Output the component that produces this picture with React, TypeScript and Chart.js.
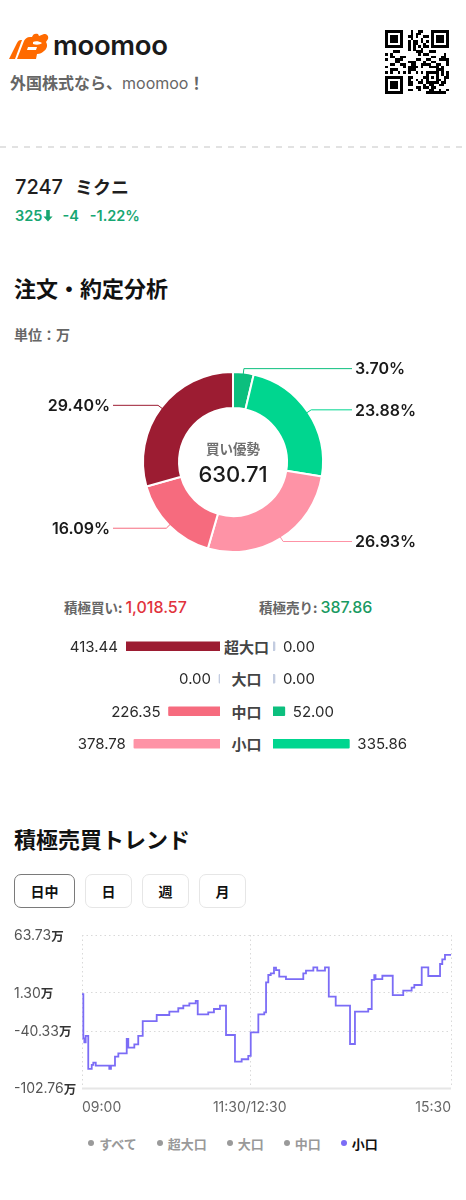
import React, { useEffect, useRef } from 'react';
import { Chart, registerables } from 'chart.js';

Chart.register(...registerables);

const CJK = '"Noto Sans CJK JP", "Noto Sans", sans-serif';
const NUM = 'Inter, "Noto Sans", sans-serif';

// ---- order / trade breakdown (unit: 万) ----
const SIZE_LABELS = ['超大口', '大口', '中口', '小口'];
const BUY_VALUES = [413.44, 0, 226.35, 378.78];
const SELL_VALUES = [0, 0, 52.0, 335.86];
const BUY_COLORS = ['#9c1c32', '#c9314a', '#f66b7e', '#fe93a6'];
const SELL_COLORS = ['#067a52', '#05a56d', '#0cbf7e', '#00d68f'];
const ZERO_COLOR = '#c3cce0';

// ---- trend (minutes of trading time since 09:00, value in 万) ----
const TREND_TIMES = [0, 1.2, 2.1, 3.3, 5.6, 8.7, 10.1, 12.3, 24.4, 25.9, 29.5, 32.5, 40.0, 41.4, 46.8, 50.3, 54.3, 66.8, 78.1, 86.1, 90.6, 96.0, 101.7, 103.5, 112.9, 118.0, 123.4, 128.8, 136.8, 142.8, 148.7, 150.9, 157.7, 163.0, 164.6, 166.6, 168.8, 171.7, 173.5, 176.4, 182.4, 197.9, 200.3, 206.9, 210.4, 217.3, 220.7, 226.9, 239.7, 244.1, 256.0, 259.1, 261.4, 262.5, 268.6, 277.9, 287.3, 294.8, 297.2, 303.8, 309.7, 320.2, 322.2, 324.6, 330];
const TREND_VALUES = [-0.5, -48.7, -53, -46, -81.9, -77.5, -75.2, -78.5, -81.9, -78.5, -68.7, -65, -49.4, -58.9, -55.2, -46, -29.9, -23.3, -19.7, -16, -13.2, -10.6, -8.1, -22.6, -20.4, -16.8, -13.2, -45.1, -74.1, -71.5, -67.9, -42.2, -22.6, -20.4, 12.1, 20.2, 22, 28.2, 25.6, 18.4, 15.8, 22, 24.9, 28.6, 24.9, 28.6, -3.4, -13.2, -54.9, -19.7, -16.8, 14.8, 20, 15.8, 19.4, -1.6, 3.1, 6.4, 9.3, 28.6, 19.1, 32.2, 37.3, 42, 42];
const X_TICKS = [0, 150, 330];
const X_TICK_LABELS = ['09:00', '11:30/12:30', '15:30'];
const Y_TICKS = [63.73, 1.3, -40.33, -102.76];
const LEGEND_LABELS = ['すべて', '超大口', '大口', '中口', '小口'];
const TAB_LABELS = ['日中', '日', '週', '月'];

const sum = (a: number[]) => a.reduce((s, v) => s + v, 0);
const fmt = (v: number) => v.toLocaleString('en-US', { minimumFractionDigits: 2, maximumFractionDigits: 2 });

function Txt(p: { x: number; y: number; size: number; children: any; style?: any }) {
  return (
    <div style={{ position: 'absolute', left: p.x, top: p.y - p.size * 0.75, height: p.size * 1.5, lineHeight: `${p.size * 1.5}px`, fontSize: p.size, whiteSpace: 'nowrap', ...(p.style || {}) }}>
      {p.children}
    </div>
  );
}

function Logo() {
  return (
    <svg width={40} height={26} viewBox="0 0 40 26" style={{ position: 'absolute', left: 9, top: 33 }}>
      <path d="M0 26 L8 10 C9 8 10 7 12 7 L13 7 L6 26 Z" fill="#ff6a00" />
      <path d="M8 26 L15 8 C16 6 18 4 21 4 L23 4 C24 1 26 0 29 1 L30 3 L35 1 C38 1 40 3 39 6 L37 9 C39 12 38 16 35 18 C33 20 31 21 28 21 L27 26 Z" fill="#ff6a00" />
      <path d="M24 9 C26 8 30 8 33 10 C31 12 27 12 24 11 Z" fill="#fff" />
      <path d="M19 14 L28 14 L27 17 L18 17 Z" fill="#fff" />
    </svg>
  );
}

function QR() {
  const n = 25;
  const cells: any[] = [];
  const finder = (r: number, c: number) => {
    const inF = (fr: number, fc: number) => r >= fr && r < fr + 7 && c >= fc && c < fc + 7;
    for (const [fr, fc] of [[0, 0], [0, n - 7], [n - 7, 0]]) {
      if (inF(fr, fc)) {
        const rr = r - fr, cc = c - fc;
        const ring = Math.min(rr, cc, 6 - rr, 6 - cc);
        return ring === 1 ? 0 : 1;
      }
      if (r >= fr - 1 && r <= fr + 7 && c >= fc - 1 && c <= fc + 7) return 0;
    }
    return -1;
  };
  for (let r = 0; r < n; r++) {
    for (let c = 0; c < n; c++) {
      let on = finder(r, c);
      if (on === -1) {
        if (r >= 16 && r <= 20 && c >= 16 && c <= 20) {
          const ring = Math.min(r - 16, c - 16, 20 - r, 20 - c);
          on = ring === 1 ? 0 : 1;
        } else {
          on = ((r * 73 + c * 151 + r * c * 17 + (r ^ c) * 29) % 7) < 3 ? 1 : 0;
        }
      }
      if (on) cells.push(<rect key={r * n + c} x={c} y={r} width={1.02} height={1.02} fill="#000" />);
    }
  }
  return (
    <svg width={64} height={64} viewBox="0 0 25 25" shapeRendering="crispEdges" style={{ position: 'absolute', left: 385, top: 30 }}>
      {cells}
    </svg>
  );
}

function Donut() {
  const ref = useRef<HTMLCanvasElement>(null);
  useEffect(() => {
    const sellTotal = sum(SELL_VALUES);
    const buyTotal = sum(BUY_VALUES);
    const total = sellTotal + buyTotal;
    const vals: number[] = [];
    const cols: string[] = [];
    SELL_VALUES.forEach((v, i) => { if (v > 0) { vals.push(v); cols.push(SELL_COLORS[i]); } });
    for (let i = BUY_VALUES.length - 1; i >= 0; i--) { if (BUY_VALUES[i] > 0) { vals.push(BUY_VALUES[i]); cols.push(BUY_COLORS[i]); } }
    const plugin = {
      id: 'donutLabels',
      afterDatasetsDraw(chart: any) {
        const ctx = chart.ctx;
        const area = chart.chartArea;
        const meta = chart.getDatasetMeta(0);
        meta.data.forEach((arc: any, i: number) => {
          const p = arc.getProps(['x', 'y', 'startAngle', 'endAngle', 'outerRadius'], true);
          const mid = (p.startAngle + p.endAngle) / 2;
          const cos = Math.cos(mid), sin = Math.sin(mid);
          const x0 = p.x + cos * (p.outerRadius - 2), y0 = p.y + sin * (p.outerRadius - 2);
          const x1 = p.x + cos * (p.outerRadius + 4), y1 = p.y + sin * (p.outerRadius + 4);
          const right = cos >= 0;
          const x2 = right ? area.right + 28 : area.left - 29;
          ctx.save();
          ctx.strokeStyle = cols[i];
          ctx.lineWidth = 1;
          ctx.beginPath();
          ctx.moveTo(x0, y0);
          ctx.lineTo(x1, y1);
          ctx.lineTo(x2, y1);
          ctx.stroke();
          ctx.fillStyle = '#1a1a1a';
          ctx.font = `600 16px ${NUM}`;
          ctx.textBaseline = 'middle';
          ctx.textAlign = right ? 'left' : 'right';
          ctx.fillText(((vals[i] / total) * 100).toFixed(2) + '%', right ? x2 + 3 : x2 - 3, y1 + 1);
          ctx.restore();
        });
        const cx = (area.left + area.right) / 2, cy = (area.top + area.bottom) / 2;
        ctx.save();
        ctx.textAlign = 'center';
        ctx.textBaseline = 'middle';
        ctx.fillStyle = '#707070';
        ctx.font = `700 13.5px ${CJK}`;
        ctx.fillText(buyTotal >= sellTotal ? '買い優勢' : '売り優勢', cx, cy - 13);
        ctx.fillStyle = '#1a1a1a';
        ctx.font = `500 22px ${NUM}`;
        ctx.fillText(fmt(Math.abs(buyTotal - sellTotal)), cx, cy + 13);
        ctx.restore();
      },
    };
    const chart = new Chart(ref.current!, {
      type: 'doughnut',
      data: { labels: vals.map((_, i) => String(i)), datasets: [{ data: vals, backgroundColor: cols, borderColor: '#ffffff', borderWidth: 2 }] },
      options: {
        animation: false,
        responsive: false,
        devicePixelRatio: 1,
        cutout: '60%',
        layout: { padding: { left: 142, right: 142, top: 31, bottom: 37 } },
        plugins: { legend: { display: false }, tooltip: { enabled: false } },
      },
      plugins: [plugin],
    } as any);
    return () => chart.destroy();
  }, []);
  return <canvas ref={ref} width={466} height={250} style={{ position: 'absolute', left: 0, top: 340 }} />;
}

function SideBars(props: { values: number[]; colors: string[]; side: 'left' | 'right'; left: number; width: number }) {
  const ref = useRef<HTMLCanvasElement>(null);
  useEffect(() => {
    const max = Math.max(...BUY_VALUES, ...SELL_VALUES);
    const isLeft = props.side === 'left';
    const plugin = {
      id: 'barValues',
      afterDatasetsDraw(chart: any) {
        const ctx = chart.ctx;
        const meta = chart.getDatasetMeta(0);
        ctx.save();
        ctx.font = `400 15px ${NUM}`;
        ctx.fillStyle = '#2a2a2a';
        ctx.textBaseline = 'middle';
        meta.data.forEach((bar: any, i: number) => {
          const p = bar.getProps(['x', 'y', 'base'], true);
          const lo = Math.min(p.x, p.base), hi = Math.max(p.x, p.base);
          const w = Math.max(hi - lo, 2);
          if (isLeft) {
            ctx.textAlign = 'right';
            ctx.fillText(fmt(props.values[i]), hi - w - 8, p.y + 1);
          } else {
            ctx.textAlign = 'left';
            ctx.fillText(fmt(props.values[i]), lo + w + 8, p.y + 1);
          }
        });
        ctx.restore();
      },
    };
    const chart = new Chart(ref.current!, {
      type: 'bar',
      data: {
        labels: SIZE_LABELS,
        datasets: [{
          data: props.values,
          backgroundColor: props.values.map((v, i) => (v === 0 ? ZERO_COLOR : props.colors[i])),
          barThickness: 9,
          minBarLength: 2,
          borderRadius: 1,
          borderSkipped: false,
        }],
      },
      options: {
        animation: false,
        responsive: false,
        devicePixelRatio: 1,
        indexAxis: 'y',
        layout: { padding: isLeft ? { left: props.width - 94, right: 0, top: 0, bottom: 0 } : { left: 0, right: props.width - 94, top: 0, bottom: 0 } },
        scales: {
          x: { display: false, min: 0, max, reverse: isLeft },
          y: { display: false },
        },
        plugins: { legend: { display: false }, tooltip: { enabled: false } },
      },
      plugins: [plugin],
    } as any);
    return () => chart.destroy();
  }, []);
  return <canvas ref={ref} width={props.width} height={130} style={{ position: 'absolute', left: props.left, top: 630 }} />;
}

function Trend() {
  const ref = useRef<HTMLCanvasElement>(null);
  useEffect(() => {
    const plugin = {
      id: 'trendDecor',
      beforeDatasetsDraw(chart: any) {
        const ctx = chart.ctx;
        const a = chart.chartArea;
        const xs = chart.scales.x, ys = chart.scales.y;
        ctx.save();
        Y_TICKS.forEach((v) => {
          const y = Math.round(ys.getPixelForValue(v));
          ctx.beginPath();
          if (v === Math.min(...Y_TICKS)) {
            ctx.setLineDash([]);
            ctx.strokeStyle = '#e6e6e6';
            ctx.lineWidth = 2;
          } else {
            ctx.setLineDash([1.5, 3]);
            ctx.strokeStyle = '#d9d9d9';
            ctx.lineWidth = 1;
          }
          ctx.moveTo(a.left, y + 0.5);
          ctx.lineTo(a.right, y + 0.5);
          ctx.stroke();
        });
        X_TICKS.forEach((t) => {
          const x = Math.round(xs.getPixelForValue(t));
          ctx.beginPath();
          ctx.setLineDash([1.5, 3]);
          ctx.strokeStyle = '#d9d9d9';
          ctx.lineWidth = 1;
          ctx.moveTo(x + 0.5, a.top);
          ctx.lineTo(x + 0.5, a.bottom);
          ctx.stroke();
        });
        ctx.restore();
      },
      afterDraw(chart: any) {
        const ctx = chart.ctx;
        const a = chart.chartArea;
        const xs = chart.scales.x, ys = chart.scales.y;
        ctx.save();
        ctx.textBaseline = 'middle';
        Y_TICKS.forEach((v) => {
          const y = ys.getPixelForValue(v) + 1;
          const num = v.toFixed(2);
          ctx.font = `400 14px ${NUM}`;
          ctx.fillStyle = '#555555';
          ctx.textAlign = 'left';
          ctx.fillText(num, 14, y);
          const w = ctx.measureText(num).width;
          ctx.font = `700 12.5px ${CJK}`;
          ctx.fillStyle = '#333333';
          ctx.fillText('万', 14 + w, y);
        });
        ctx.font = `400 14px ${NUM}`;
        ctx.fillStyle = '#666666';
        X_TICKS.forEach((t, i) => {
          const x = xs.getPixelForValue(t);
          ctx.textAlign = i === 0 ? 'left' : i === X_TICKS.length - 1 ? 'right' : 'center';
          ctx.fillText(X_TICK_LABELS[i], x, a.bottom + 20);
        });
        ctx.restore();
      },
    };
    const chart = new Chart(ref.current!, {
      type: 'line',
      data: {
        datasets: [{
          data: TREND_TIMES.map((t, i) => ({ x: t, y: TREND_VALUES[i] })),
          borderColor: '#7b6cf6',
          borderWidth: 1.8,
          pointRadius: 0,
          stepped: 'before',
          fill: false,
        }],
      },
      options: {
        animation: false,
        responsive: false,
        devicePixelRatio: 1,
        layout: { padding: { left: 82, right: 15, top: 10, bottom: 37 } },
        scales: {
          x: { type: 'linear', display: false, min: 0, max: 330 },
          y: { display: false, min: Math.min(...Y_TICKS), max: Math.max(...Y_TICKS) },
        },
        plugins: { legend: { display: false }, tooltip: { enabled: false } },
      },
      plugins: [plugin],
    } as any);
    return () => chart.destroy();
  }, []);
  return <canvas ref={ref} width={466} height={200} style={{ position: 'absolute', left: 0, top: 925 }} />;
}

export default function App() {
  useEffect(() => {
    document.body.style.margin = '0';
    document.body.style.background = '#ffffff';
  }, []);
  const sellTotal = sum(SELL_VALUES);
  const buyTotal = sum(BUY_VALUES);
  const tabWidths = [61, 47, 47, 47];
  let tabX = 14;
  return (
    <div style={{ position: 'absolute', left: 0, top: 0, width: 466, height: 1200, background: '#fff', overflow: 'hidden', fontFamily: NUM }}>
      <Logo />
      <Txt x={53} y={46} size={27.5} style={{ fontFamily: NUM, fontWeight: 600, color: '#1a1a1a', letterSpacing: -0.3 }}>moomoo</Txt>
      <Txt x={10} y={82} size={16} style={{ color: '#666' }}>
        <span style={{ fontFamily: CJK, fontWeight: 700 }}>外国株式なら、</span>
        <span style={{ fontFamily: NUM, fontWeight: 400 }}>moomoo</span>
        <span style={{ fontFamily: CJK, fontWeight: 700 }}>！</span>
      </Txt>
      <QR />
      <svg width={466} height={2} style={{ position: 'absolute', left: 0, top: 146 }}>
        <line x1={0} y1={1} x2={466} y2={1} stroke="#e2e2e2" strokeWidth={2} strokeDasharray="6 6" />
      </svg>

      <Txt x={15} y={186} size={20} style={{ color: '#1f1f1f' }}>
        <span style={{ fontFamily: NUM, fontWeight: 500 }}>7247</span>
        <span style={{ fontFamily: CJK, fontWeight: 700, fontSize: 18, marginLeft: 12 }}>ミクニ</span>
      </Txt>
      <Txt x={15} y={216} size={14.5} style={{ color: '#17a672', fontFamily: NUM, fontWeight: 600, display: 'flex', alignItems: 'center' }}>
        <span>325</span>
        <svg width={10} height={12} viewBox="0 0 10 12" style={{ marginLeft: 1 }}>
          <path d="M3.2 0 H6.8 V6.5 H9.6 L5 11.5 L0.4 6.5 H3.2 Z" fill="#17a672" />
        </svg>
        <span style={{ marginLeft: 9 }}>-4</span>
        <span style={{ marginLeft: 11 }}>-1.22%</span>
      </Txt>

      <Txt x={14} y={287} size={22} style={{ fontFamily: CJK, fontWeight: 700, color: '#111' }}>注文・約定分析</Txt>
      <Txt x={14} y={334} size={14} style={{ fontFamily: CJK, fontWeight: 700, color: '#666' }}>単位：万</Txt>

      <Donut />

      <Txt x={64} y={607} size={14} style={{ color: '#666' }}>
        <span style={{ fontFamily: CJK, fontWeight: 700, fontSize: 13.5 }}>積極買い: </span>
        <span style={{ fontFamily: NUM, fontWeight: 500, fontSize: 16, color: '#e1323c' }}>{fmt(buyTotal)}</span>
      </Txt>
      <Txt x={259} y={607} size={14} style={{ color: '#666' }}>
        <span style={{ fontFamily: CJK, fontWeight: 700, fontSize: 13.5 }}>積極売り: </span>
        <span style={{ fontFamily: NUM, fontWeight: 500, fontSize: 16, color: '#199a62' }}>{fmt(sellTotal)}</span>
      </Txt>

      <SideBars values={BUY_VALUES} colors={BUY_COLORS} side="left" left={50} width={170} />
      <div style={{ position: 'absolute', left: 220, top: 630, width: 53 }}>
        {SIZE_LABELS.map((l) => (
          <div key={l} style={{ height: 32.5, display: 'flex', alignItems: 'center', justifyContent: 'center', fontFamily: CJK, fontWeight: 700, fontSize: 15, color: '#444', whiteSpace: 'nowrap' }}>{l}</div>
        ))}
      </div>
      <SideBars values={SELL_VALUES} colors={SELL_COLORS} side="right" left={273} width={150} />

      <Txt x={14} y={838} size={22} style={{ fontFamily: CJK, fontWeight: 700, color: '#111' }}>積極売買トレンド</Txt>

      {TAB_LABELS.map((t, i) => {
        const x = tabX;
        tabX += tabWidths[i] + 10;
        return (
          <div key={t} style={{ position: 'absolute', left: x, top: 874, width: tabWidths[i], height: 34, boxSizing: 'border-box', border: `1px solid ${i === 0 ? '#7a7a7a' : '#e6e6e6'}`, borderRadius: 7, display: 'flex', alignItems: 'center', justifyContent: 'center', fontFamily: CJK, fontWeight: 700, fontSize: 14, color: '#111' }}>{t}</div>
        );
      })}

      <Trend />

      <div style={{ position: 'absolute', left: 0, width: 466, top: 1133, height: 20, display: 'flex', justifyContent: 'center', alignItems: 'center', gap: 20 }}>
        {LEGEND_LABELS.map((l, i) => {
          const active = i === LEGEND_LABELS.length - 1;
          return (
            <div key={l} style={{ display: 'flex', alignItems: 'center', gap: 5 }}>
              <span style={{ width: 6, height: 6, borderRadius: 3, background: active ? '#7b6cf6' : '#9a9a9a', display: 'inline-block' }} />
              <span style={{ fontFamily: CJK, fontWeight: 700, fontSize: 13, color: active ? '#111' : '#999' }}>{l}</span>
            </div>
          );
        })}
      </div>
    </div>
  );
}
